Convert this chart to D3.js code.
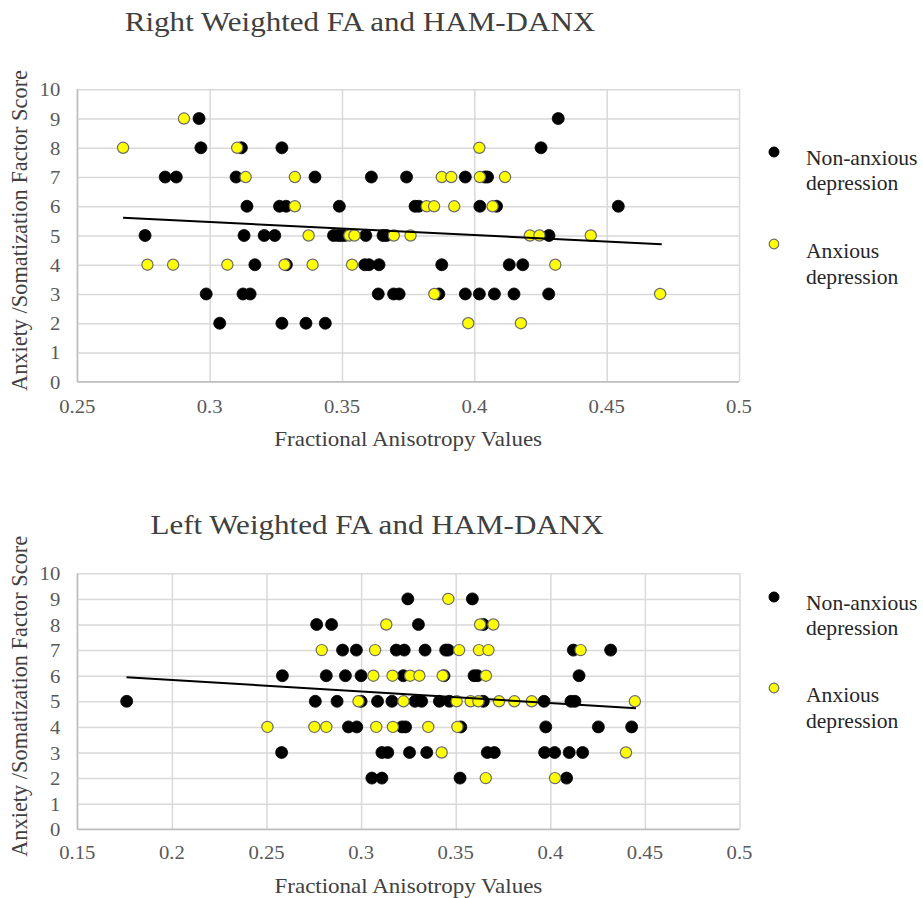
<!DOCTYPE html>
<html>
<head>
<meta charset="utf-8">
<script src="https://cdn.jsdelivr.net/npm/d3@7"></script>
<style>
  html, body { margin: 0; padding: 0; background: #fff; }
  svg { display: block; }
  text { font-family: "Liberation Serif", "Times New Roman", serif; }
</style>
</head>
<body>
<svg id="chart" width="923" height="898"></svg>
<script>
// ---------------- DATA ----------------
// Each row: [score, [FA values...]]
const rightNonAnxious = [
  [9, [0.296, 0.4317]],
  [8, [0.2967, 0.312, 0.3273, 0.4252]],
  [7, [0.2832, 0.2874, 0.310, 0.3398, 0.3611, 0.3744, 0.3966, 0.404, 0.405]],
  [6, [0.3141, 0.3264, 0.3289, 0.349, 0.3776, 0.379, 0.4021, 0.4084, 0.4544]],
  [5, [0.2756, 0.313, 0.3206, 0.3246, 0.3468, 0.3485, 0.3497, 0.351, 0.359, 0.3655, 0.3668, 0.4282]],
  [4, [0.3171, 0.329, 0.3586, 0.3602, 0.364, 0.3877, 0.4132, 0.4183]],
  [3, [0.2987, 0.3126, 0.3153, 0.3637, 0.3695, 0.3716, 0.3866, 0.3966, 0.4019, 0.4076, 0.415, 0.4281]],
  [2, [0.3038, 0.3273, 0.3364, 0.3437]]
];
const rightAnxious = [
  [9, [0.2903]],
  [8, [0.2673, 0.3104, 0.4019]],
  [7, [0.3136, 0.3322, 0.3877, 0.3913, 0.4021, 0.4116]],
  [6, [0.3322, 0.382, 0.3848, 0.3924, 0.4069]],
  [5, [0.3374, 0.3528, 0.3547, 0.3696, 0.3759, 0.421, 0.4246, 0.444]],
  [4, [0.2765, 0.2862, 0.3067, 0.3283, 0.3389, 0.3538, 0.4306]],
  [3, [0.3849, 0.4702]],
  [2, [0.3977, 0.4176]]
];
const leftNonAnxious = [
  [9, [0.3247, 0.3588]],
  [8, [0.2765, 0.2844, 0.3303, 0.3646]],
  [7, [0.2902, 0.2975, 0.3186, 0.3228, 0.3338, 0.3447, 0.3461, 0.4122, 0.4319]],
  [6, [0.2584, 0.2816, 0.2917, 0.30, 0.3223, 0.3438, 0.3597, 0.3615, 0.4152]],
  [5, [0.1761, 0.2758, 0.2873, 0.3, 0.3087, 0.3163, 0.3285, 0.332, 0.3414, 0.3467, 0.3646, 0.3967, 0.4109, 0.413]],
  [4, [0.2933, 0.2977, 0.3216, 0.3235, 0.3527, 0.3976, 0.4254, 0.443]],
  [3, [0.258, 0.311, 0.3141, 0.3256, 0.3347, 0.3667, 0.3704, 0.397, 0.4023, 0.41, 0.4171]],
  [2, [0.3057, 0.311, 0.3523, 0.4086]]
];
const leftAnxious = [
  [9, [0.3461]],
  [8, [0.3133, 0.3629, 0.3699]],
  [7, [0.2792, 0.3074, 0.3518, 0.3623, 0.3673, 0.416]],
  [6, [0.3065, 0.3166, 0.3259, 0.3308, 0.3431, 0.366]],
  [5, [0.2986, 0.3224, 0.3505, 0.3579, 0.362, 0.3729, 0.381, 0.3902, 0.4447]],
  [4, [0.2505, 0.2753, 0.2816, 0.308, 0.3168, 0.3355, 0.3509]],
  [3, [0.3426, 0.44]],
  [2, [0.3659, 0.4025]]
];
// trend line endpoints [FA, score]
const rightTrend = [[0.2673, 5.61], [0.4708, 4.70]];
const leftTrend  = [[0.176, 5.94], [0.4453, 4.73]];

const rightXTicks = ["0.25", "0.3", "0.35", "0.4", "0.45", "0.5"];
const leftXTicks  = ["0.15", "0.2", "0.25", "0.3", "0.35", "0.4", "0.45", "0.5"];
const yTicks = ["0","1","2","3","4","5","6","7","8","9","10"];

const titles = ["Right Weighted FA and HAM-DANX", "Left Weighted FA and HAM-DANX"];
const xTitle = "Fractional Anisotropy Values";
const yTitle = "Anxiety /Somatization Factor Score";
const legendLabels = [["Non-anxious", "depression"], ["Anxious", "depression"]];

// ---------------- DRAW ----------------
const svg = d3.select("#chart");
const SX = 1.15; // horizontal stretch of the reference text

function stretchedText(g, x, y, str, size, color, anchor, rot, sx) {
  const t = g.append("text")
    .attr("transform", `translate(${x},${y}) scale(${sx || SX},1)` + (rot ? " rotate(-90)" : ""))
    .attr("text-anchor", anchor || "start")
    .attr("dominant-baseline", "central")
    .attr("font-size", size)
    .attr("fill", color)
    .text(str);
  return t;
}

function flatten(rows) {
  const out = [];
  rows.forEach(([s, xs]) => xs.forEach(v => out.push({ x: v, y: s })));
  return out;
}

function drawChart(cfg) {
  const g = svg.append("g");
  const x = d3.scaleLinear().domain(cfg.xDomain).range([cfg.left, cfg.right]);
  const y = d3.scaleLinear().domain([0, 10]).range([cfg.bottom, cfg.top]);
  const xVals = cfg.xTicks.map(Number);
  const yVals = yTicks.map(Number);

  // gridlines
  g.append("g")
    .attr("transform", `translate(${cfg.left},0)`)
    .call(d3.axisLeft(y).tickValues(yVals).tickSize(-(cfg.right - cfg.left)).tickFormat(""))
    .call(a => a.select(".domain").remove())
    .call(a => a.selectAll("line").attr("stroke", "#d9d9d9").attr("stroke-width", 1.5));
  g.append("g")
    .attr("transform", `translate(0,${cfg.bottom})`)
    .call(d3.axisBottom(x).tickValues(xVals).tickSize(-(cfg.bottom - cfg.top)).tickFormat(""))
    .call(a => a.select(".domain").remove())
    .call(a => a.selectAll("line").attr("stroke", "#d9d9d9").attr("stroke-width", 1.5));
  // axis lines
  g.append("line").attr("x1", cfg.left).attr("x2", cfg.right).attr("y1", cfg.bottom).attr("y2", cfg.bottom)
    .attr("stroke", "#bfbfbf").attr("stroke-width", 1.5);
  g.append("line").attr("x1", cfg.left).attr("x2", cfg.left).attr("y1", cfg.top).attr("y2", cfg.bottom)
    .attr("stroke", "#bfbfbf").attr("stroke-width", 1.5);

  // tick labels
  yTicks.forEach((lbl, i) => stretchedText(g, cfg.left - 17, y(yVals[i]) + 1, lbl, 18, "#595959", "end"));
  cfg.xTicks.forEach((lbl, i) => stretchedText(g, x(xVals[i]), cfg.xTickY, lbl, 18, "#595959", "middle"));

  // titles
  stretchedText(g, cfg.titleX, cfg.titleY, cfg.title, 27, "#404040", "middle");
  stretchedText(g, (cfg.left + cfg.right) / 2, cfg.xTitleY, xTitle, 20, "#404040", "middle");
  stretchedText(g, 20, (cfg.top + cfg.bottom) / 2 - 5, yTitle, 20, "#404040", "middle", true)
    .attr("textLength", 321).attr("lengthAdjust", "spacingAndGlyphs");

  // points
  g.append("g").selectAll("circle").data(flatten(cfg.black)).join("circle")
    .attr("cx", d => x(d.x)).attr("cy", d => y(d.y)).attr("r", 6)
    .attr("fill", "#000").attr("stroke", "#000").attr("stroke-width", 0.8);
  g.append("g").selectAll("circle").data(flatten(cfg.yellow)).join("circle")
    .attr("cx", d => x(d.x)).attr("cy", d => y(d.y)).attr("r", 5.6)
    .attr("fill", "#ffff00").attr("stroke", "#6b6b6b").attr("stroke-width", 1.2);

  // trend
  g.append("path").datum(cfg.trend)
    .attr("d", d3.line().x(d => x(d[0])).y(d => y(d[1])))
    .attr("fill", "none").attr("stroke", "#000").attr("stroke-width", 2);

  // legend
  const L = cfg.legend;
  const LSX = 1.08;
  g.append("circle").attr("cx", 774).attr("cy", L[0]).attr("r", 5)
    .attr("fill", "#000").attr("stroke", "#000");
  stretchedText(g, 806, L[0] + 6, legendLabels[0][0], 20, "#262626", "start", false, LSX);
  stretchedText(g, 806, L[0] + 31, legendLabels[0][1], 20, "#262626", "start", false, LSX);
  g.append("circle").attr("cx", 774).attr("cy", L[1]).attr("r", 4.8)
    .attr("fill", "#ffff00").attr("stroke", "#6b6b6b").attr("stroke-width", 1.2);
  stretchedText(g, 806, L[1] + 7, legendLabels[1][0], 20, "#262626", "start", false, LSX);
  stretchedText(g, 806, L[1] + 33, legendLabels[1][1], 20, "#262626", "start", false, LSX);
}

drawChart({
  xDomain: [0.25, 0.5], left: 77.3, right: 739, top: 89.3, bottom: 381.7,
  xTicks: rightXTicks, xTickY: 407, xTitleY: 440,
  title: titles[0], titleX: 360, titleY: 22,
  black: rightNonAnxious, yellow: rightAnxious, trend: rightTrend,
  legend: [152, 244]
});
drawChart({
  xDomain: [0.15, 0.5], left: 77.3, right: 739.5, top: 573.3, bottom: 829.3,
  xTicks: leftXTicks, xTickY: 853, xTitleY: 887,
  title: titles[1], titleX: 377, titleY: 525,
  black: leftNonAnxious, yellow: leftAnxious, trend: leftTrend,
  legend: [597, 688]
});
</script>
</body>
</html>
